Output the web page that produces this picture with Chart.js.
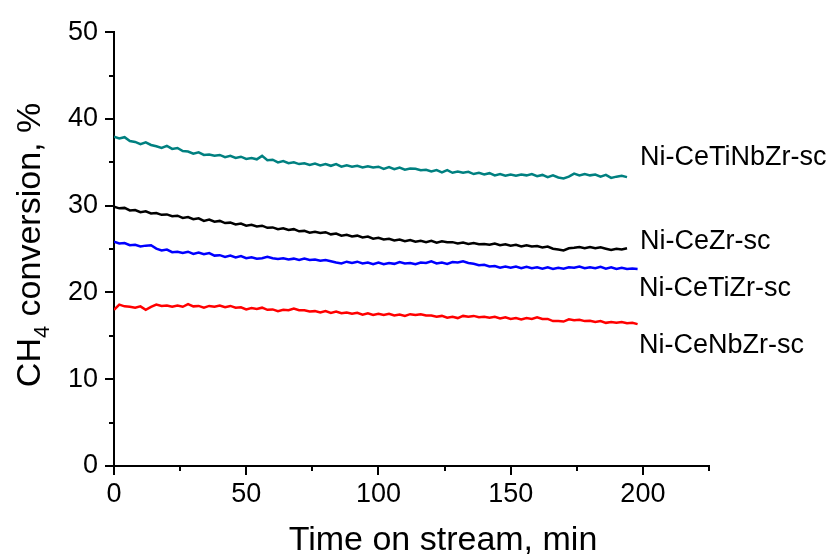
<!DOCTYPE html>
<html>
<head>
<meta charset="utf-8">
<title>CH4 conversion vs time on stream</title>
<script src="https://cdn.jsdelivr.net/npm/chart.js@4.4.0/dist/chart.umd.min.js"></script>
<style>
  html, body { margin: 0; padding: 0; background: #fff; }
  #wrap { width: 832px; height: 554px; }
</style>
</head>
<body>
<div id="wrap"><canvas id="convChart" width="832" height="554"></canvas></div>
<script>
// time on stream, min (shared by all catalysts)
const time = [
  0, 2, 4, 6, 8, 10, 12, 14, 16, 18,
  20, 22, 24, 26, 28, 30, 32, 34, 36, 38,
  40, 42, 44, 46, 48, 50, 52, 54, 56, 58,
  60, 62, 64, 66, 68, 70, 72, 74, 76, 78,
  80, 82, 84, 86, 88, 90, 92, 94, 96, 98,
  100, 102, 104, 106, 108, 110, 112, 114, 116, 118,
  120, 122, 124, 126, 128, 130, 132, 134, 136, 138,
  140, 142, 144, 146, 148, 150, 152, 154, 156, 158,
  160, 162, 164, 166, 168, 170, 172, 174, 176, 178,
  180, 182, 184, 186, 188, 190, 192, 194, 196, 198
];

// CH4 conversion, %
const ceTiNbZr = [
  37.95, 37.75, 37.9, 37.45, 37.35, 37.1, 37.3, 37.0, 36.85, 36.65,
  36.9, 36.55, 36.65, 36.3, 36.25, 36.0, 36.15, 35.85, 35.9, 35.75,
  35.85, 35.6, 35.75, 35.5, 35.65, 35.4, 35.5, 35.35, 35.75, 35.25,
  35.3, 35.0, 35.15, 34.9, 35.0, 34.8, 34.9, 34.7, 34.85, 34.65,
  34.8, 34.6, 34.8, 34.5, 34.65, 34.5, 34.6, 34.4, 34.55, 34.4,
  34.5, 34.25, 34.45, 34.2, 34.4, 34.15, 34.3, 34.25, 34.1, 34.15,
  33.95, 34.1, 33.85, 34.1, 33.8, 33.95, 33.8, 33.9, 33.65, 33.8,
  33.6, 33.75, 33.5, 33.65, 33.45, 33.6, 33.45, 33.6, 33.5, 33.65,
  33.4, 33.55, 33.3, 33.5, 33.25, 33.15, 33.35, 33.7, 33.5, 33.65,
  33.5, 33.6, 33.35, 33.55, 33.2, 33.35, 33.45, 33.3
];
const ceZr = [
  29.9, 29.7, 29.75, 29.45, 29.5, 29.25, 29.35, 29.1, 29.15, 28.95,
  29.0, 28.8, 28.85, 28.6, 28.7, 28.45, 28.55, 28.25, 28.4, 28.15,
  28.25, 28.0, 28.05, 27.85, 27.95, 27.7, 27.8, 27.6, 27.7, 27.45,
  27.5, 27.3, 27.4, 27.2, 27.3, 27.05, 27.1, 26.9, 27.0, 26.85,
  26.95, 26.7, 26.8, 26.55, 26.65, 26.45, 26.55, 26.35, 26.45, 26.2,
  26.3, 26.1, 26.2, 26.0, 26.1, 25.9, 26.05, 25.85, 25.95, 25.8,
  25.95, 25.75, 25.9, 25.8, 25.8, 25.65, 25.75, 25.6, 25.7, 25.55,
  25.6, 25.5, 25.65, 25.45, 25.55, 25.4, 25.5, 25.3, 25.45, 25.3,
  25.35, 25.2, 25.3, 25.05, 24.95, 24.85, 25.1, 25.15, 25.25, 25.1,
  25.25, 25.1, 25.2, 25.05, 24.9, 25.05, 24.95, 25.1
];
const ceTiZr = [
  25.85, 25.65, 25.7, 25.45, 25.5, 25.3, 25.4, 25.45, 25.05, 24.85,
  24.95, 24.65, 24.7, 24.55, 24.7, 24.45, 24.6, 24.4, 24.55, 24.25,
  24.3, 24.1, 24.25, 24.05, 24.2, 23.95, 24.05, 23.9, 23.95, 24.1,
  23.95, 23.85, 23.95, 23.8, 23.9, 23.75, 23.9, 23.75, 23.8, 23.65,
  23.75, 23.6, 23.45, 23.35, 23.55, 23.4, 23.55, 23.35, 23.45, 23.25,
  23.45, 23.25, 23.4, 23.3, 23.5, 23.35, 23.4, 23.25, 23.45, 23.4,
  23.6, 23.35, 23.45, 23.3, 23.5, 23.45, 23.6, 23.4, 23.3, 23.15,
  23.2, 23.0, 23.05, 22.85, 23.0, 22.85, 23.0, 22.8, 22.95, 22.8,
  22.9, 22.75, 22.9, 22.7, 22.85, 22.75, 22.9, 22.85, 23.0, 22.8,
  22.9, 22.8, 22.95, 22.75, 22.9, 22.7, 22.85, 22.7, 22.75, 22.7
];
const ceNbZr = [
  18.0, 18.6, 18.4, 18.35, 18.25, 18.4, 18.0, 18.35, 18.6, 18.45,
  18.5, 18.35, 18.5, 18.35, 18.65, 18.4, 18.45, 18.25, 18.45, 18.35,
  18.5, 18.3, 18.45, 18.25, 18.3, 18.05, 18.2, 18.1, 18.25, 18.0,
  18.05, 17.85, 18.0, 17.95, 18.15, 17.95, 17.95, 17.8, 17.85, 17.7,
  17.85, 17.65, 17.8, 17.6, 17.7, 17.55, 17.65, 17.45, 17.6, 17.4,
  17.55, 17.4, 17.55, 17.35, 17.45, 17.3, 17.5, 17.4, 17.5, 17.35,
  17.35, 17.2, 17.3, 17.1, 17.2, 17.05, 17.3, 17.2, 17.3, 17.15,
  17.2, 17.1, 17.2, 17.0, 17.15, 16.95, 17.05, 16.9, 17.05, 16.95,
  17.15, 16.95, 16.95, 16.7, 16.7, 16.65, 16.9, 16.8, 16.85, 16.7,
  16.75, 16.6, 16.7, 16.5, 16.6, 16.5, 16.6, 16.45, 16.5, 16.35
];

const seriesNames = ['Ni-CeTiNbZr-sc', 'Ni-CeZr-sc', 'Ni-CeTiZr-sc', 'Ni-CeNbZr-sc'];
const seriesColors = ['#008080', '#000000', '#0000ff', '#ff0000'];
// where each name sits, in data units (min, %)
const labelX = [198.9, 198.9, 198.5, 198.5];
const labelY = [35.6, 25.85, 20.4, 13.85];

const xTicks = [0, 50, 100, 150, 200];
const xMinor = [25, 75, 125, 175, 225];
const yTicks = [0, 10, 20, 30, 40, 50];
const yMinor = [5, 15, 25, 35, 45];

const FONT = "'Liberation Sans', Arial, sans-serif";

function toPoints(values) {
  return values.map((v, i) => ({ x: time[i], y: v }));
}

// outward tick marks, long for labelled values and short in between
const tickMarks = {
  id: 'tickMarks',
  afterDraw(chart) {
    const { ctx, scales: { x, y } } = chart;
    ctx.save();
    ctx.strokeStyle = '#000';
    ctx.lineWidth = 2;
    ctx.beginPath();
    const xTick = (v, len) => {
      const px = Math.round(x.getPixelForValue(v));
      ctx.moveTo(px, x.top);
      ctx.lineTo(px, x.top + len);
    };
    const yTick = (v, len) => {
      const py = Math.round(y.getPixelForValue(v));
      ctx.moveTo(y.right, py);
      ctx.lineTo(y.right - len, py);
    };
    xTicks.forEach(v => xTick(v, 9));
    xMinor.forEach(v => xTick(v, 5));
    yTicks.forEach(v => yTick(v, 9));
    yMinor.forEach(v => yTick(v, 5));
    ctx.stroke();
    ctx.restore();
  }
};

// series names next to the curve ends
const seriesLabels = {
  id: 'seriesLabels',
  afterDraw(chart) {
    const { ctx, scales: { x, y } } = chart;
    ctx.save();
    ctx.fillStyle = '#000';
    ctx.font = '27px ' + FONT;
    ctx.textAlign = 'left';
    ctx.textBaseline = 'middle';
    seriesNames.forEach((name, i) => {
      ctx.fillText(name, x.getPixelForValue(labelX[i]), y.getPixelForValue(labelY[i]));
    });
    ctx.restore();
  }
};

// axis titles; the y title needs a subscript so it is drawn by hand
const axisTitles = {
  id: 'axisTitles',
  afterDraw(chart) {
    const { ctx } = chart;
    ctx.save();
    ctx.fillStyle = '#000';
    ctx.font = '34px ' + FONT;
    ctx.textAlign = 'center';
    ctx.textBaseline = 'alphabetic';
    ctx.fillText('Time on stream, min', 443, 550);

    const big = '34px ' + FONT;
    const small = '22px ' + FONT;
    ctx.textAlign = 'left';
    ctx.font = big;
    const wCH = ctx.measureText('CH').width;
    const wRest = ctx.measureText(' conversion, %').width;
    ctx.font = small;
    const wSub = ctx.measureText('4').width;
    const total = wCH + wSub + wRest;

    ctx.translate(40, 245);
    ctx.rotate(-Math.PI / 2);
    let pos = -total / 2;
    ctx.font = big;
    ctx.fillText('CH', pos, 0);
    pos += wCH;
    ctx.font = small;
    ctx.fillText('4', pos, 9);
    pos += wSub;
    ctx.font = big;
    ctx.fillText(' conversion, %', pos, 0);
    ctx.restore();
  }
};

const datasets = [ceTiNbZr, ceZr, ceTiZr, ceNbZr].map((vals, i) => ({
  label: seriesNames[i],
  data: toPoints(vals),
  borderColor: seriesColors[i],
  backgroundColor: seriesColors[i],
  borderWidth: 2.5,
  pointRadius: 0,
  tension: 0,
  fill: false
}));

new Chart(document.getElementById('convChart'), {
  type: 'line',
  data: { datasets },
  options: {
    responsive: false,
    animation: false,
    devicePixelRatio: 1,
    layout: { padding: { left: 0, top: 29, right: 123, bottom: 0 } },
    plugins: {
      legend: { display: false },
      tooltip: { enabled: false }
    },
    scales: {
      x: {
        type: 'linear',
        min: 0,
        max: 225,
        afterBuildTicks: s => { s.ticks = xTicks.map(v => ({ value: v })); },
        afterFit: s => { s.height = 88; },
        grid: { display: false, drawTicks: false },
        border: { display: true, color: '#000', width: 2 },
        ticks: { color: '#000', padding: 12, font: { family: FONT, size: 27 } }
      },
      y: {
        min: 0,
        max: 50,
        afterBuildTicks: s => { s.ticks = yTicks.map(v => ({ value: v })); },
        afterFit: s => { s.width = 114; },
        grid: { display: false, drawTicks: false },
        border: { display: true, color: '#000', width: 2 },
        ticks: { color: '#000', padding: 16, font: { family: FONT, size: 27 } }
      }
    }
  },
  plugins: [tickMarks, seriesLabels, axisTitles]
});
</script>
</body>
</html>
